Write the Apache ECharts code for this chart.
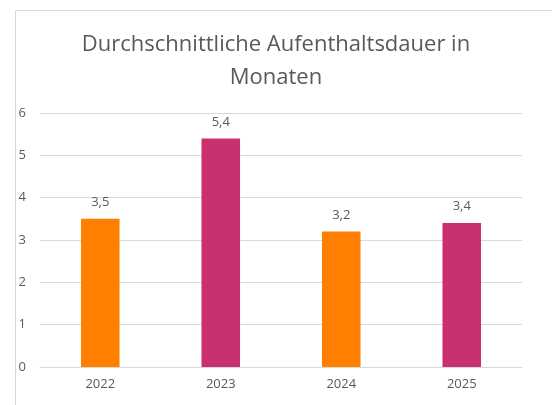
<!DOCTYPE html>
<html>
<head>
<meta charset="utf-8">
<script src="https://cdn.jsdelivr.net/npm/echarts@6/dist/echarts.min.js"></script>
<style>
  html, body { margin: 0; padding: 0; background: #fff; }
  #main { width: 552px; height: 405px; }
</style>
</head>
<body>
<div id="main"></div>
<script>
var years = ['2022', '2023', '2024', '2025'];
var months = [3.5, 5.4, 3.2, 3.4];
var barColors = ['#FF7F00', '#C9306F', '#FF7F00', '#C9306F'];

var chart = echarts.init(document.getElementById('main'));
var textColor = '#595959';
var font = '"Open Sans", "Noto Sans", sans-serif';

var option = {
    animation: false,
    backgroundColor: '#fff',
    graphic: [{
        type: 'rect',
        shape: { x: 15.5, y: 10.5, width: 545, height: 400 },
        style: { fill: 'none', stroke: '#d9d9d9', lineWidth: 1 }
    }],
    title: {
        text: 'Durchschnittliche Aufenthaltsdauer in\nMonaten',
        left: 'center',
        top: 23,
        textStyle: {
            color: textColor,
            fontFamily: font,
            fontWeight: 'normal',
            fontSize: 22,
            lineHeight: 33
        }
    },
    grid: { left: 40, right: 30, top: 113, bottom: 38 },
    xAxis: {
        type: 'category',
        data: years,
        axisTick: { show: false },
        axisLine: { lineStyle: { color: '#d9d9d9' } },
        axisLabel: { color: textColor, fontFamily: font, fontSize: 13, margin: 11 }
    },
    yAxis: {
        type: 'value',
        min: 0,
        max: 6,
        interval: 1,
        axisLabel: { color: textColor, fontFamily: font, fontSize: 13, margin: 14 },
        splitLine: { lineStyle: { color: '#d9d9d9' } }
    },
    series: [{
        type: 'bar',
        barWidth: '32%',
        data: months.map(function(v, i) {
            return { value: v, itemStyle: { color: barColors[i] } };
        }),
        label: {
            show: true,
            position: 'top',
            distance: 10,
            color: textColor,
            fontFamily: font,
            fontSize: 13,
            formatter: function(p) { return String(p.value).replace('.', ','); }
        }
    }]
};
chart.setOption(option);
</script>
</body>
</html>
